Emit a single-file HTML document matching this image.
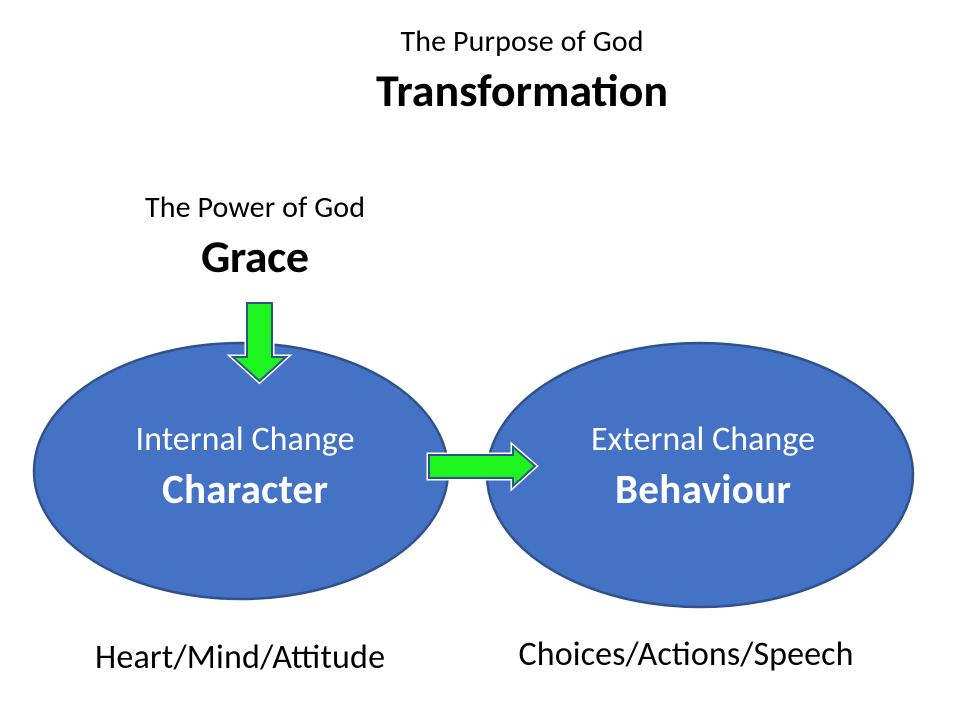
<!DOCTYPE html>
<html><head><meta charset="utf-8"><style>
body{margin:0;background:#fff;}
svg{display:block;}
text{font-family:"Carlito","Liberation Sans",sans-serif;}
</style></head><body>
<svg width="958" height="703" viewBox="0 0 958 703">
<rect width="958" height="703" fill="#fff"/>
<ellipse cx="241" cy="471" rx="207" ry="128" fill="#4472C4" stroke="#2F528F" stroke-width="2.5"/>
<ellipse cx="700" cy="475" rx="213" ry="132" fill="#4472C4" stroke="#2F528F" stroke-width="2.5"/>
<polygon points="247,303 272,303 272,357 286,357 259.5,381 233,357 247,357" fill="#1EF51E" stroke="#fff" stroke-width="5"/>
<polygon points="247,303 272,303 272,357 286,357 259.5,381 233,357 247,357" fill="#1EF51E" stroke="#2F528F" stroke-width="2"/>
<polygon points="429,455 513,455 513,447 535,466 513,486 513,478 429,478" fill="#1EF51E" stroke="#fff" stroke-width="5"/>
<polygon points="429,455 513,455 513,447 535,466 513,486 513,478 429,478" fill="#1EF51E" stroke="#2F528F" stroke-width="2"/>
<text x="522" y="51" font-size="30" text-anchor="middle" fill="#000" textLength="243">The Purpose of God</text>
<text x="522" y="106" font-size="46" font-weight="bold" text-anchor="middle" fill="#000" textLength="292">Transformation</text>
<text x="255" y="217" font-size="30" text-anchor="middle" fill="#000" textLength="220">The Power of God</text>
<text x="255" y="272" font-size="46" font-weight="bold" text-anchor="middle" fill="#000" textLength="108">Grace</text>
<text x="245" y="450" font-size="34" text-anchor="middle" fill="#fff" textLength="219">Internal Change</text>
<text x="245" y="503" font-size="41" font-weight="bold" text-anchor="middle" fill="#fff" textLength="166">Character</text>
<text x="703" y="450" font-size="34" text-anchor="middle" fill="#fff" textLength="224">External Change</text>
<text x="703" y="503" font-size="41" font-weight="bold" text-anchor="middle" fill="#fff" textLength="176">Behaviour</text>
<text x="240" y="668" font-size="34" text-anchor="middle" fill="#000" textLength="290">Heart/Mind/Attitude</text>
<text x="686" y="665" font-size="34" text-anchor="middle" fill="#000" textLength="335">Choices/Actions/Speech</text>
</svg>
</body></html>
